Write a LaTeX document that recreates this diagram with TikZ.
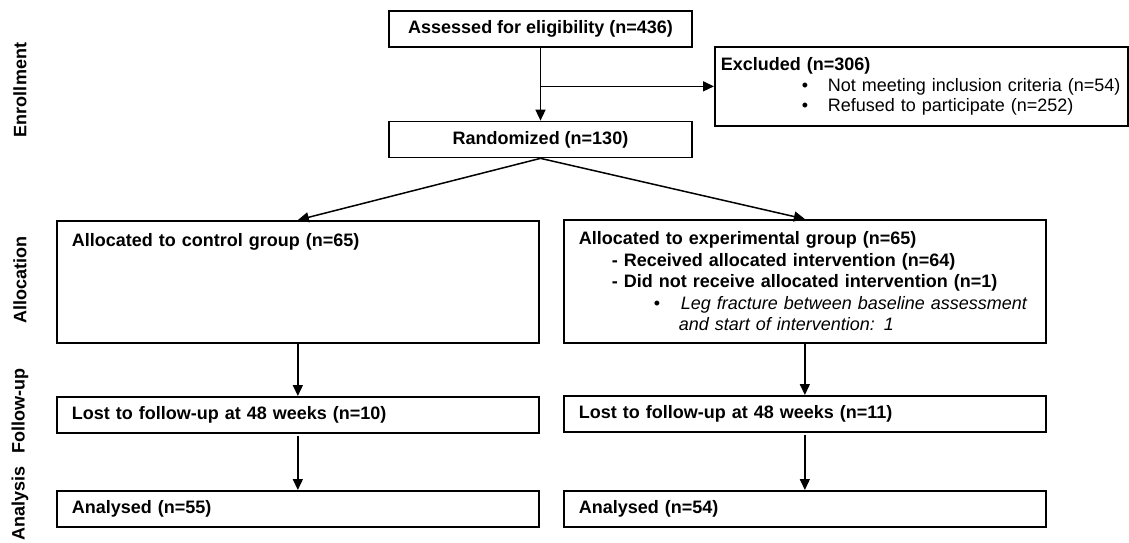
\documentclass[tikz,border=0pt]{standalone}
\usepackage{fontspec}
\setmainfont{Liberation Sans}
\usetikzlibrary{arrows.meta}
\begin{document}
\begin{tikzpicture}[x=1pt,y=-1pt,
  box/.style={draw, line width=1.7pt, inner sep=0pt, font=\fontsize{18}{21.5}\selectfont},
  wbox/.style={box, anchor=north west, minimum width=482pt, text width=452pt, inner xsep=15pt, align=left},
  arr/.style={line width=1.5pt, -{Triangle[length=11pt,width=10pt]}},
  lab/.style={rotate=90, inner sep=0pt, font=\bfseries\fontsize{18}{20}\selectfont}]
\useasboundingbox (0,0) rectangle (1129,542);

% side labels
\node[lab] (lEnr) at (20,90) {Enrollment};
\node[lab] (lAll) at (20,280) {Allocation};
\node[lab] (lFol) at (20,411) {Follow-up};
\node[lab] (lAna) at (20,503) {Analysis};

% enrollment
\node[box, minimum width=303pt, minimum height=36pt] (assess) at (540.5,29) {\bfseries Assessed for eligibility (n=436)};
\node[box, anchor=north west, minimum width=413pt, minimum height=79pt, text width=401pt, inner xsep=6pt, align=left, font=\fontsize{18}{20.5}\selectfont] (excl) at (714,46)
  {\textbf{Excluded (n=306)}\\
   \hspace*{81pt}\makebox[26pt][l]{\textbullet}Not meeting inclusion criteria (n=54)\\
   \hspace*{81pt}\makebox[26pt][l]{\textbullet}Refused to participate (n=252)};
\node[box, minimum width=303pt, minimum height=36pt] (rand) at (540.5,139.5) {\bfseries Randomized (n=130)};

% allocation
\node[wbox, inner ysep=12.5pt, text height=13pt, text depth=84pt] (ctrl) at (56,220) {\bfseries Allocated to control group (n=65)};
\node[wbox, minimum height=123pt] (exp) at (563,219)
  {\textbf{Allocated to experimental group (n=65)}\\
   \hspace*{33pt}\textbf{- Received allocated intervention (n=64)}\\
   \hspace*{33pt}\textbf{- Did not receive allocated intervention (n=1)}\\
   \hspace*{75pt}\makebox[27pt][l]{\textbullet}\textit{Leg fracture between baseline assessment}\\
   \hspace*{100pt}\textit{and start of intervention: 1}};

% follow-up
\node[wbox, minimum height=36pt] (fu1) at (56,396) {\bfseries Lost to follow-up at 48 weeks (n=10)};
\node[wbox, minimum height=36pt] (fu2) at (563,395) {\bfseries Lost to follow-up at 48 weeks (n=11)};

% analysis
\node[wbox, minimum height=36pt] (an1) at (56,490) {\bfseries Analysed (n=55)};
\node[wbox, minimum height=36pt] (an2) at (563,490) {\bfseries Analysed (n=54)};

% connectors
\draw[arr] (assess.south) -- (rand.north);
\draw[arr] (assess.south |- excl.west) -- (excl.west);
\draw[arr] (rand.south) -- (ctrl.north);
\draw[arr] (rand.south) -- (exp.north);
\draw[arr] (ctrl.south) -- (fu1.north);
\draw[arr] (exp.south) -- (fu2.north);
\draw[arr, shorten <=2pt] (fu1.south) -- (an1.north);
\draw[arr, shorten <=2pt] (fu2.south) -- (an2.north);
\end{tikzpicture}
\end{document}
